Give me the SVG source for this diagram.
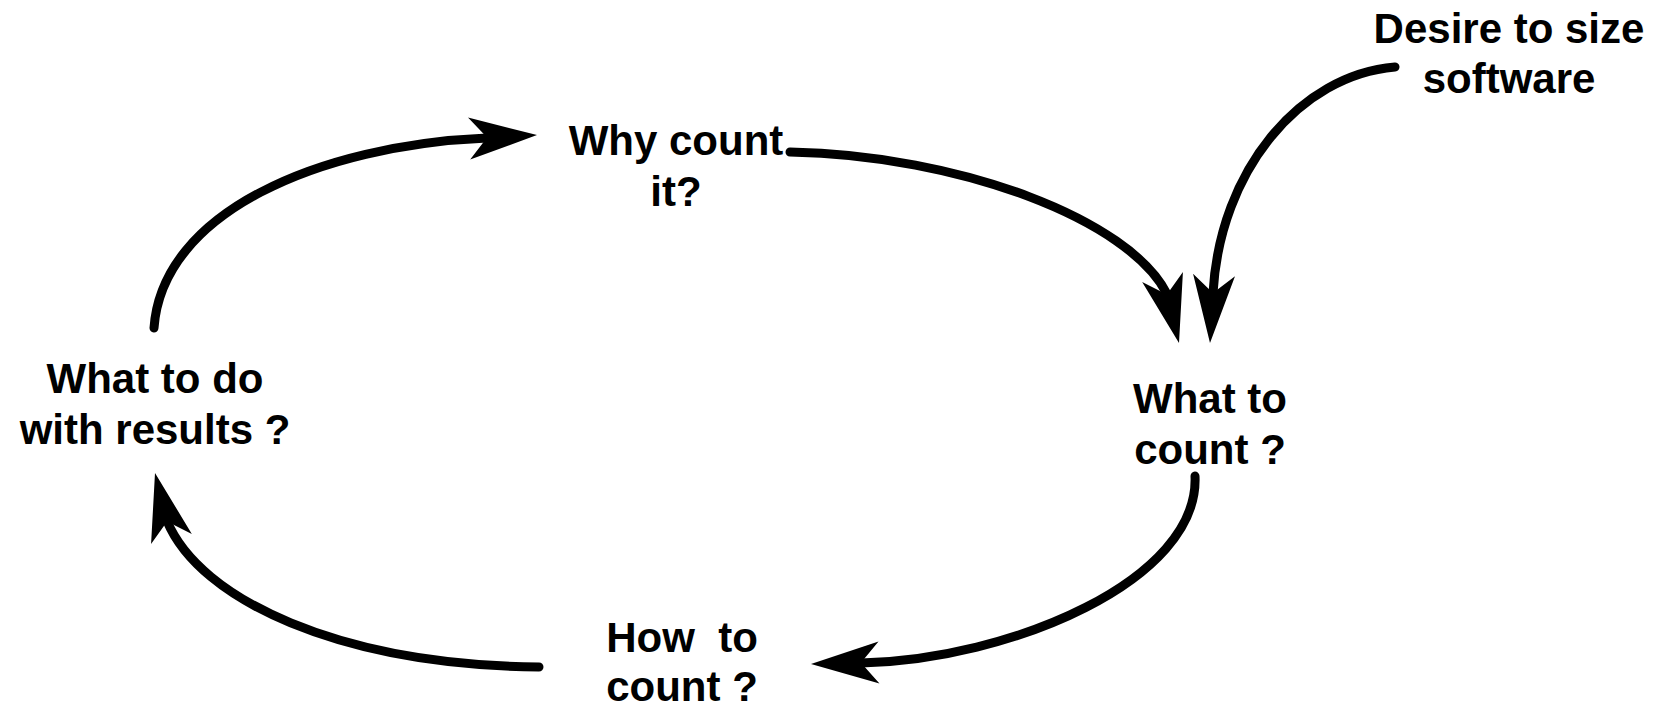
<svg xmlns="http://www.w3.org/2000/svg" xmlns:xlink="http://www.w3.org/1999/xlink" width="1668" height="706" viewBox="0 0 1668 706">
<style>
.lbl{font-family:"Liberation Sans",Arial,sans-serif;font-weight:bold;font-size:42px;fill:#000;text-anchor:middle}
.arc{fill:none;stroke:#000;stroke-width:9;stroke-linecap:round}
.head{fill:#000}
</style>
<defs>
<path id="head" d="M0,0 L-68,-21 L-50,0 L-68,21 Z"/>
</defs>
<rect width="1668" height="706" fill="#fff"/>
<g id="connectors">
<path class="arc" d="M154,328 C162,212 320,145 487,138"/>
<use class="head" xlink:href="#head" transform="translate(537,135) rotate(-3)"/>
<path class="arc" d="M790,152 C960,155 1130,220 1167,294"/>
<use class="head" xlink:href="#head" transform="translate(1179,343) rotate(76)"/>
<path class="arc" d="M1395,67 C1300,75 1220,170 1213,293"/>
<use class="head" xlink:href="#head" transform="translate(1210,343) rotate(93.4)"/>
<path class="arc" d="M1195,476 C1200,580 1010,660 861,663"/>
<use class="head" xlink:href="#head" transform="translate(811,664) rotate(178.7)"/>
<path class="arc" d="M539,667 C340,665 200,600 167,521"/>
<use class="head" xlink:href="#head" transform="translate(155,473) rotate(-104)"/>
</g>
<g id="why">
<text class="lbl" x="676" y="155">Why count</text>
<text class="lbl" x="676" y="206">it?</text>
</g>
<g id="desire">
<text class="lbl" x="1509" y="43">Desire to size</text>
<text class="lbl" x="1509" y="93">software</text>
</g>
<g id="what">
<text class="lbl" x="1210" y="413">What to</text>
<text class="lbl" x="1210" y="464">count ?</text>
</g>
<g id="how">
<text class="lbl" x="682" y="652" xml:space="preserve">How  to</text>
<text class="lbl" x="682" y="701">count ?</text>
</g>
<g id="results">
<text class="lbl" x="155" y="393">What to do</text>
<text class="lbl" x="155" y="444">with results ?</text>
</g>
</svg>
